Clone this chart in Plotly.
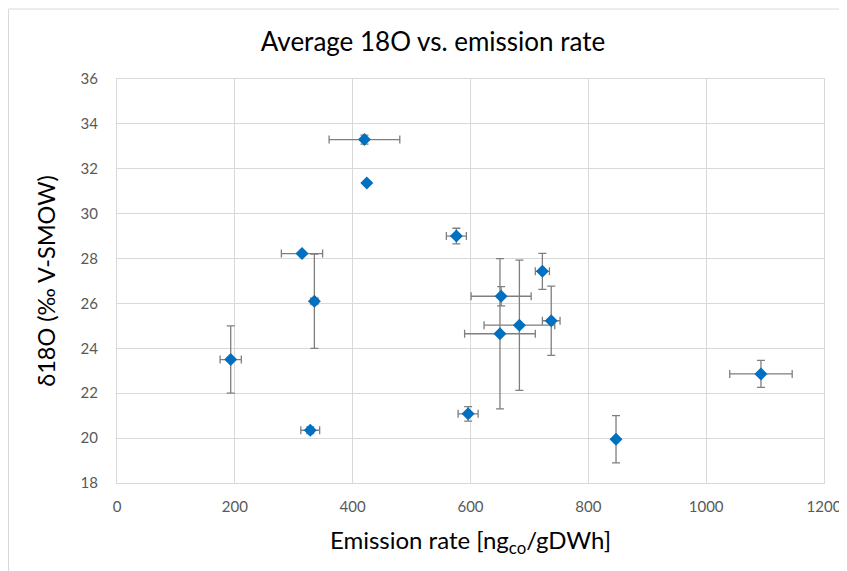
import plotly.graph_objects as go

# Data
emission = [420, 424, 576, 314, 335, 193, 328, 596, 652, 650, 683, 722, 737, 847, 1093]
d18o = [33.3, 31.37, 29.0, 28.22, 26.1, 23.5, 20.35, 21.08, 26.32, 24.65, 25.03, 27.43, 25.23, 19.95, 22.86]
x_err = [60, 0, 17, 35, 6, 18, 16, 17, 51, 60, 60, 12, 15, 0, 53]
y_err = [0.2, 0, 0.35, 0, 2.1, 1.5, 0.15, 0.32, 0.43, 3.35, 2.9, 0.8, 1.54, 1.05, 0.6]

x_ticks = [0, 200, 400, 600, 800, 1000, 1200]
y_ticks = [18, 20, 22, 24, 26, 28, 30, 32, 34, 36]

FONT = "Lato"
grid = "#d9d9d9"
tickc = "#595959"
errc = "#7f7f7f"

# page has an 8px body margin, so the figure is sized/offset accordingly
W, H = 839, 563
ML, MR, MT, MB = 109, 23, 71, 88
PW, PH = W - ML - MR, H - MT - MB

fig = go.Figure()
fig.add_trace(go.Scatter(
    x=emission, y=d18o, mode="markers",
    marker=dict(symbol="diamond", size=10, color="#0070c0", line=dict(width=0)),
    error_x=dict(type="data", array=x_err, visible=True, color=errc, thickness=1.3, width=4),
    error_y=dict(type="data", array=y_err, visible=True, color=errc, thickness=1.3, width=4),
    showlegend=False,
))

fig.update_layout(
    width=W, height=H, autosize=False,
    margin=dict(l=ML, r=MR, t=MT, b=MB),
    paper_bgcolor="white", plot_bgcolor="white",
    font=dict(family=FONT),
    title=dict(text="Average 18O vs. emission rate", x=425/W, xanchor="center",
               y=1 - 34/H, yanchor="middle",
               font=dict(family=FONT, size=26, color="#000000")),
    xaxis=dict(range=[0, 1200], tickvals=x_ticks, ticktext=[str(v) for v in x_ticks],
               showgrid=True, gridcolor=grid, gridwidth=1, zeroline=False,
               showline=True, linecolor=grid, linewidth=1, mirror=True,
               ticks="", ticklabelstandoff=10, automargin=False,
               tickfont=dict(family=FONT, size=15, color=tickc),
               title=dict(text="Emission rate [ng<sub>co</sub>/gDWh]", standoff=18,
                          font=dict(family=FONT, size=24, color="#000000"))),
    yaxis=dict(range=[18, 36], tickvals=y_ticks, ticktext=[str(v) for v in y_ticks],
               showgrid=True, gridcolor=grid, gridwidth=1, zeroline=False,
               showline=True, linecolor=grid, linewidth=1, mirror=True,
               ticks="", ticklabelstandoff=15, automargin=False,
               tickfont=dict(family=FONT, size=15, color=tickc),
               title=dict(text="δ18O (‰ V-SMOW)", standoff=18,
                          font=dict(family=FONT, size=23.5, color="#000000"))),
    shapes=[dict(type="rect", xref="paper", yref="paper",
                 x0=(-ML + 0.5) / PW, x1=1 + (MR + 20) / PW,
                 y0=-(MB + 20) / PH, y1=1 + (MT - 1) / PH,
                 line=dict(color="#d9d9d9", width=1), fillcolor="rgba(0,0,0,0)", layer="below")],
)

fig.write_html("out.html")
